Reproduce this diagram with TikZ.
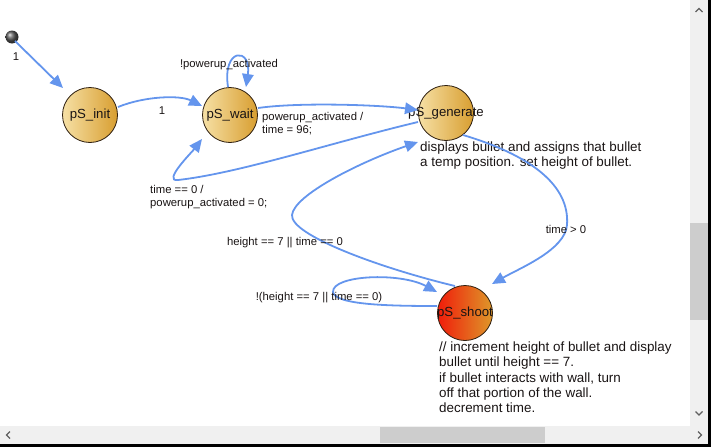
\documentclass[tikz,border=0pt]{standalone}
\usepackage{fontspec}
\setmainfont{Liberation Sans}
\usetikzlibrary{arrows.meta,calc}
\definecolor{edgeblue}{RGB}{100,149,237}
\definecolor{goldL}{RGB}{246,224,165}
\definecolor{goldR}{RGB}{216,158,48}
\definecolor{redL}{RGB}{240,28,10}
\definecolor{redR}{RGB}{222,152,42}
\definecolor{rim}{RGB}{45,30,15}
\definecolor{txt}{RGB}{25,20,20}
\definecolor{sbar}{RGB}{240,240,240}
\definecolor{sthumb}{RGB}{205,205,205}
\definecolor{sarrow}{RGB}{96,96,96}
\begin{document}
\begin{tikzpicture}[x=1pt,y=-1pt,
  state/.style={circle,draw=rim,line width=0.8pt,minimum size=55pt,inner sep=0pt,
    left color=goldL,right color=goldR,text=txt,font=\fontsize{13.2}{15}\selectfont},
  hot/.style={state,left color=redL,right color=redR},
  edge/.style={draw=edgeblue,line width=1.8pt,-{Triangle[length=13pt,width=11.5pt]}},
  lbl/.style={inner sep=0pt,text=txt,font=\fontsize{11.3}{13}\selectfont},
  desc/.style={inner sep=0pt,text=txt,align=left,anchor=north west,font=\fontsize{13.4}{15.3}\selectfont},
  chev/.style={draw=sarrow,line width=1.1pt}]
\useasboundingbox (0,0) rectangle (711,447);
% scrollbars
\fill[sbar] (690,0) rectangle (708,426);
\fill[sthumb] (690,223) rectangle (708,320);
\fill[sbar] (0,426) rectangle (708,444);
\fill[sthumb] (380,427) rectangle (545,443);
\draw[chev] (695.5,12) -- (699,8.5) -- (702.5,12);
\draw[chev] (695.5,411.5) -- (699,415) -- (702.5,411.5);
\draw[chev] (10,431.5) -- (6.5,435) -- (10,438.5);
\draw[chev] (698,431.5) -- (701.5,435) -- (698,438.5);
\fill[black] (708,0) rectangle (711,447);
\fill[black] (0,444) rectangle (711,447);
% nodes
\node[circle,inner sep=0pt,minimum size=13pt,shading=ball,ball color=gray!70!black] (dot) at (12,37) {};
\node[state] (init) at (90,115) {\makebox[0pt]{pS\_init}};
\node[state] (wait) at (230,115) {\makebox[0pt]{pS\_wait}};
\node[state] (gen) at (446,113) {\makebox[0pt]{pS\_generate}};
\node[hot] (shoot) at (465,313) {\makebox[0pt]{pS\_shoot}};
% descriptions
\node[desc] (gdesc) at (420,141.5) {displays bullet and assigns that bullet\\a temp position. set height of bullet.};
\node[desc] (sdesc) at (439,341.5) {// increment height of bullet and display\\bullet until height == 7.\\if bullet interacts with wall, turn\\off that portion of the wall.\\decrement time.};
% edges
\draw[edge] ($(dot)+(3,4)$) -- ($(init)+(-27,-27)$);
\draw[edge] ($(init)+(28,-8)$) .. controls (145,96) and (180,95) .. ($(wait)+(-28,-9)$);
\draw[edge] ($(wait)+(-2,-28)$) .. controls (222,47) and (252,47) .. ($(wait)+(16,-28)$);
\draw[edge] ($(wait)+(28,-7)$) .. controls (300,102) and (380,105) .. ($(gen)+(-28,-3)$);
\draw[edge] ($(gen)+(-28,9)$) .. controls (330,143) and (240,173) .. (178,180)
  .. controls (162,182) and (192,152) .. ($(wait)+(-28,24)$);
\draw[edge] ($(gen)+(17,22)$) .. controls (530,155) and (570,185) .. (567,225)
  .. controls (565,250) and (520,268) .. ($(shoot)+(27,-29)$);
\draw[edge] ($(shoot)+(-10,-27)$) .. controls (380,268) and (290,235) .. (292,215)
  .. controls (294,195) and (360,162) .. ($(gen)+(-28,29)$);
\draw[edge] ($(shoot)+(-28,-7)$) .. controls (390,306) and (335,305) .. (333,292)
  .. controls (332,275) and (400,272) .. ($(shoot)+(-28,-21)$);
% edge labels
\node[lbl] (e1) at (16,57) {1};
\node[lbl] (e2) at (162,111) {1};
\node[lbl] (e3) at (229,65) {!powerup\_activated};
\node[lbl,align=left,anchor=north west] (e4) at (262,112.5) {powerup\_activated /\\time = 96;};
\node[lbl,align=left,anchor=north west] (e5) at (150,185.5) {time == 0 /\\powerup\_activated = 0;};
\node[lbl] (e6) at (566,229) {time > 0};
\node[lbl] (e7) at (285,243) {height == 7 || time == 0};
\node[lbl] (e8) at (319,298) {!(height == 7 || time == 0)};
\end{tikzpicture}
\end{document}
